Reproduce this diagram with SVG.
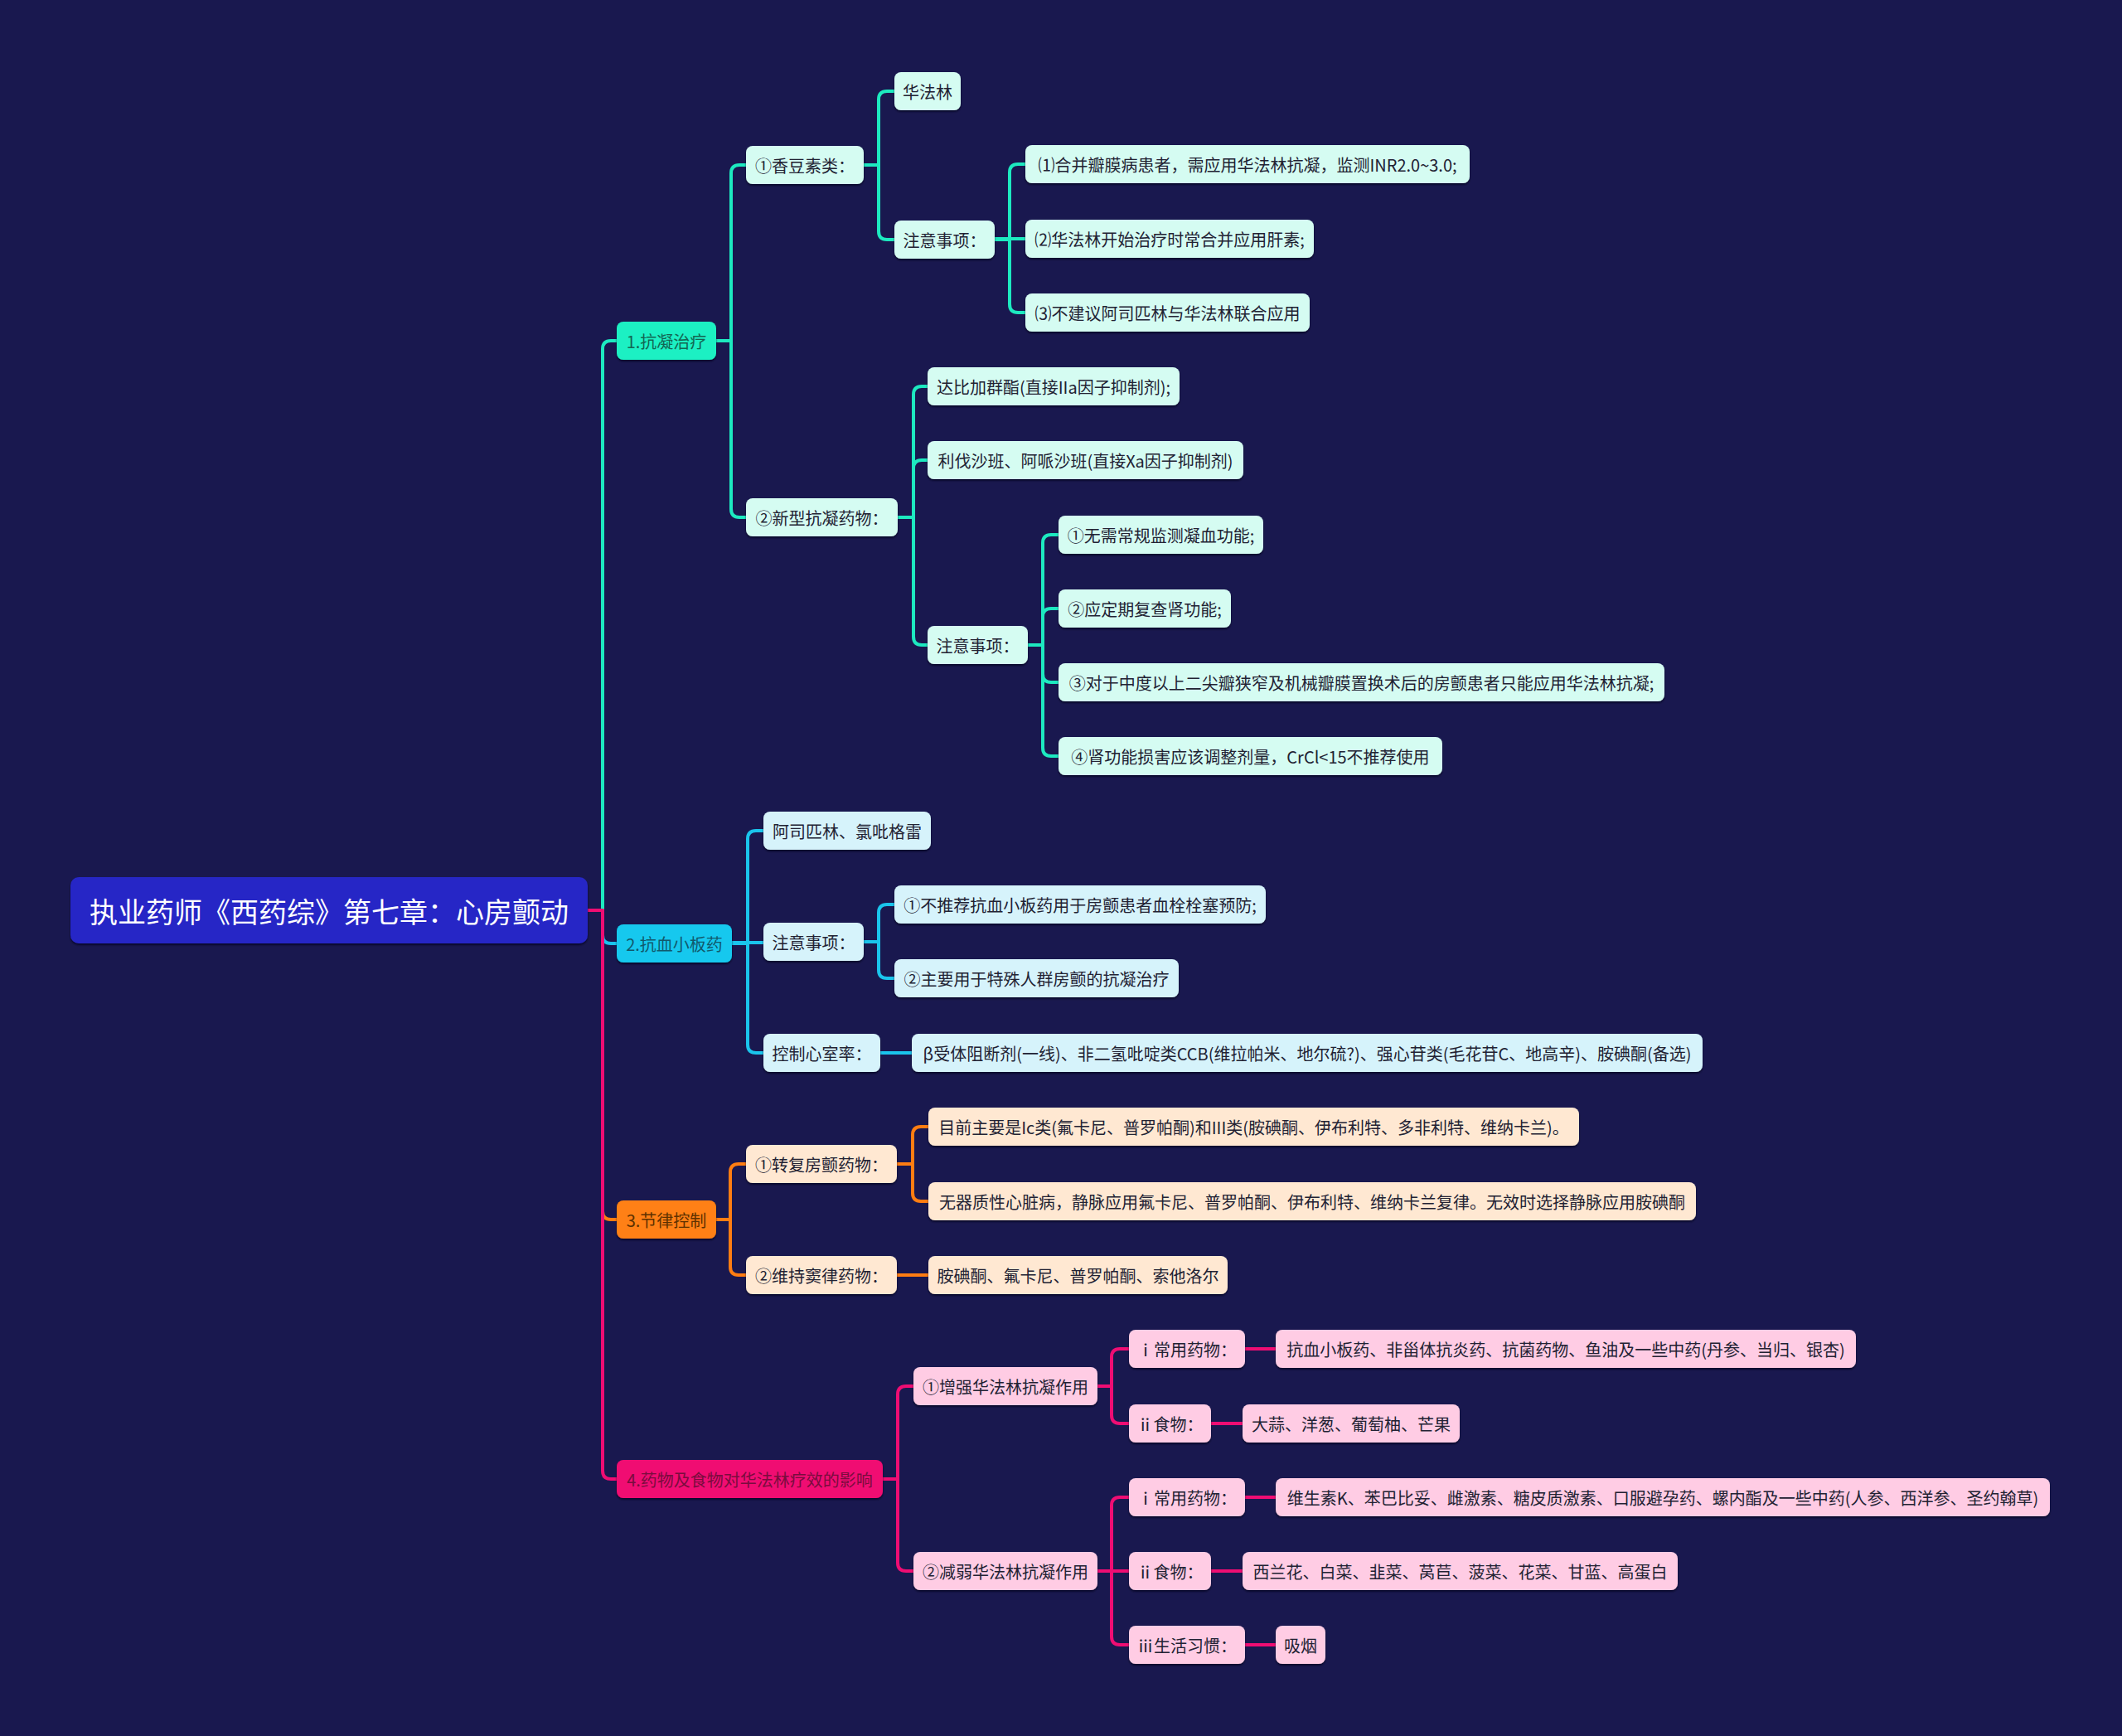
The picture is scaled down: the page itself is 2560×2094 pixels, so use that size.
<svg xmlns="http://www.w3.org/2000/svg" width="2560" height="2094" viewBox="0 0 2560 2094">
<defs>
<filter id="sh" x="-5%" y="-20%" width="110%" height="150%">
<feDropShadow dx="0" dy="2" stdDeviation="1" flood-color="#05041f" flood-opacity="0.7"/>
</filter>
</defs>
<style>
text{font-family:"Noto Sans CJK SC","Noto Sans",sans-serif;font-size:20px;text-anchor:middle;dominant-baseline:central;fill:#222233}
rect{filter:url(#sh)}
.root rect{fill:#2626c6}
.root text{fill:#ffffff;font-size:34px}
.c path{fill:none;stroke-width:4;stroke-linejoin:round}
.lt{stroke:#1de9c0}.lc{stroke:#1ac4ec}.lo{stroke:#ff7d12}.lp{stroke:#ef0d73}
.t1 rect{fill:#1ef0c3}.t1 text{fill:#136652}
.t2 rect{fill:#d5fcf2}
.c1 rect{fill:#12c8ee}.c1 text{fill:#11596c}
.c2 rect{fill:#d6f3fb}
.o1 rect{fill:#ff8012}.o1 text{fill:#5e3100}
.o2 rect{fill:#ffe8d2}
.p1 rect{fill:#f00a72}.p1 text{fill:#7a0c3e}
.p2 rect{fill:#ffcce4}
</style>
<rect x="0" y="0" width="2560" height="2094" fill="#19184f" style="filter:none"/>
<g class="c" id="connectors">
<path class="lt" d="M709 1098 H727 V421 Q727 411 737 411 H744"/>
<path class="lc" d="M709 1098 H727 V1128 Q727 1138 737 1138 H744"/>
<path class="lo" d="M709 1098 H727 V1461 Q727 1471 737 1471 H744"/>
<path class="lp" d="M709 1098 H727 V1774 Q727 1784 737 1784 H744"/>
<path class="lt" d="M864 411 H882 V209 Q882 199 892 199 H900"/>
<path class="lt" d="M864 411 H882 V614 Q882 624 892 624 H900"/>
<path class="lt" d="M1042 199 H1060 V120 Q1060 110 1070 110 H1079"/>
<path class="lt" d="M1042 199 H1060 V279 Q1060 289 1070 289 H1079"/>
<path class="lt" d="M1200 289 H1218 V208 Q1218 198 1228 198 H1237"/>
<path class="lt" d="M1200 288 H1237"/>
<path class="lt" d="M1200 289 H1218 V367 Q1218 377 1228 377 H1237"/>
<path class="lt" d="M1083 624 H1102 V476 Q1102 466 1112 466 H1119"/>
<path class="lt" d="M1083 624 H1102 V565 Q1102 555 1112 555 H1119"/>
<path class="lt" d="M1083 624 H1102 V768 Q1102 778 1112 778 H1119"/>
<path class="lt" d="M1240 778 H1258 V655 Q1258 645 1268 645 H1277"/>
<path class="lt" d="M1240 778 H1258 V744 Q1258 734 1268 734 H1277"/>
<path class="lt" d="M1240 778 H1258 V813 Q1258 823 1268 823 H1277"/>
<path class="lt" d="M1240 778 H1258 V902 Q1258 912 1268 912 H1277"/>
<path class="lc" d="M883 1138 H902 V1012 Q902 1002 912 1002 H921"/>
<path class="lc" d="M883 1137 H921"/>
<path class="lc" d="M883 1138 H902 V1260 Q902 1270 912 1270 H921"/>
<path class="lc" d="M1042 1136 H1060 V1101 Q1060 1091 1070 1091 H1079"/>
<path class="lc" d="M1042 1136 H1060 V1170 Q1060 1180 1070 1180 H1079"/>
<path class="lc" d="M1062 1270 H1100"/>
<path class="lo" d="M864 1471 H881 V1414 Q881 1404 891 1404 H900"/>
<path class="lo" d="M864 1471 H881 V1528 Q881 1538 891 1538 H900"/>
<path class="lo" d="M1082 1404 H1101 V1369 Q1101 1359 1111 1359 H1120"/>
<path class="lo" d="M1082 1404 H1101 V1439 Q1101 1449 1111 1449 H1120"/>
<path class="lo" d="M1082 1538 H1120"/>
<path class="lp" d="M1065 1784 H1083 V1682 Q1083 1672 1093 1672 H1102"/>
<path class="lp" d="M1065 1784 H1083 V1885 Q1083 1895 1093 1895 H1102"/>
<path class="lp" d="M1324 1672 H1341 V1637 Q1341 1627 1351 1627 H1362"/>
<path class="lp" d="M1324 1672 H1341 V1707 Q1341 1717 1351 1717 H1362"/>
<path class="lp" d="M1502 1627 H1539"/>
<path class="lp" d="M1461 1717 H1499"/>
<path class="lp" d="M1324 1895 H1341 V1816 Q1341 1806 1351 1806 H1362"/>
<path class="lp" d="M1324 1895 H1362"/>
<path class="lp" d="M1324 1895 H1341 V1974 Q1341 1984 1351 1984 H1362"/>
<path class="lp" d="M1502 1806 H1539"/>
<path class="lp" d="M1461 1895 H1499"/>
<path class="lp" d="M1502 1984 H1539"/>
</g>
<g id="root" class="root"><rect x="85" y="1058" width="624" height="80" rx="10"/><text x="397" y="1098">执业药师《西药综》第七章：心房颤动</text></g>

<g id="n1" class="t1"><rect x="744" y="388" width="120" height="46" rx="8"/><text x="804" y="411">1.抗凝治疗</text></g>
<g id="n1a" class="t2"><rect x="900" y="176" width="142" height="46" rx="8"/><text x="971" y="199">①香豆素类：</text></g>
<g id="n1a1" class="t2"><rect x="1079" y="87" width="80" height="46" rx="8"/><text x="1119" y="110">华法林</text></g>
<g id="n1a2" class="t2"><rect x="1079" y="266" width="121" height="46" rx="8"/><text x="1139.5" y="289">注意事项：</text></g>
<g id="n1a2a" class="t2"><rect x="1237" y="175" width="536" height="46" rx="8"/><text x="1505" y="198">⑴合并瓣膜病患者，需应用华法林抗凝，监测INR2.0~3.0;</text></g>
<g id="n1a2b" class="t2"><rect x="1237" y="265" width="348" height="46" rx="8"/><text x="1411" y="288">⑵华法林开始治疗时常合并应用肝素;</text></g>
<g id="n1a2c" class="t2"><rect x="1237" y="354" width="343" height="46" rx="8"/><text x="1408.5" y="377">⑶不建议阿司匹林与华法林联合应用</text></g>
<g id="n1b" class="t2"><rect x="900" y="601" width="183" height="46" rx="8"/><text x="991.5" y="624">②新型抗凝药物：</text></g>
<g id="n1b1" class="t2"><rect x="1119" y="443" width="304" height="46" rx="8"/><text x="1271" y="466">达比加群酯(直接IIa因子抑制剂);</text></g>
<g id="n1b2" class="t2"><rect x="1119" y="532" width="381" height="46" rx="8"/><text x="1309.5" y="555">利伐沙班、阿哌沙班(直接Xa因子抑制剂)</text></g>
<g id="n1b3" class="t2"><rect x="1119" y="755" width="121" height="46" rx="8"/><text x="1179.5" y="778">注意事项：</text></g>
<g id="n1b3a" class="t2"><rect x="1277" y="622" width="247" height="46" rx="8"/><text x="1400.5" y="645">①无需常规监测凝血功能;</text></g>
<g id="n1b3b" class="t2"><rect x="1277" y="711" width="208" height="46" rx="8"/><text x="1381" y="734">②应定期复查肾功能;</text></g>
<g id="n1b3c" class="t2"><rect x="1277" y="800" width="731" height="46" rx="8"/><text x="1642.5" y="823">③对于中度以上二尖瓣狭窄及机械瓣膜置换术后的房颤患者只能应用华法林抗凝;</text></g>
<g id="n1b3d" class="t2"><rect x="1277" y="889" width="463" height="46" rx="8"/><text x="1508.5" y="912">④肾功能损害应该调整剂量，CrCl&lt;15不推荐使用</text></g>

<g id="n2" class="c1"><rect x="744" y="1115" width="139" height="46" rx="8"/><text x="813.5" y="1138">2.抗血小板药</text></g>
<g id="n2a" class="c2"><rect x="921" y="979" width="202" height="46" rx="8"/><text x="1022" y="1002">阿司匹林、氯吡格雷</text></g>
<g id="n2b" class="c2"><rect x="921" y="1113" width="121" height="46" rx="8"/><text x="981.5" y="1136">注意事项：</text></g>
<g id="n2b1" class="c2"><rect x="1079" y="1068" width="448" height="46" rx="8"/><text x="1303" y="1091">①不推荐抗血小板药用于房颤患者血栓栓塞预防;</text></g>
<g id="n2b2" class="c2"><rect x="1079" y="1157" width="343" height="46" rx="8"/><text x="1250.5" y="1180">②主要用于特殊人群房颤的抗凝治疗</text></g>
<g id="n2c" class="c2"><rect x="921" y="1247" width="141" height="46" rx="8"/><text x="991.5" y="1270">控制心室率：</text></g>
<g id="n2c1" class="c2"><rect x="1100" y="1247" width="954" height="46" rx="8"/><text x="1577" y="1270">β受体阻断剂(一线)、非二氢吡啶类CCB(维拉帕米、地尔硫?)、强心苷类(毛花苷C、地高辛)、胺碘酮(备选)</text></g>

<g id="n3" class="o1"><rect x="744" y="1448" width="120" height="46" rx="8"/><text x="804" y="1471">3.节律控制</text></g>
<g id="n3a" class="o2"><rect x="900" y="1381" width="182" height="46" rx="8"/><text x="991" y="1404">①转复房颤药物：</text></g>
<g id="n3a1" class="o2"><rect x="1120" y="1336" width="785" height="46" rx="8"/><text x="1512.5" y="1359">目前主要是Ic类(氟卡尼、普罗帕酮)和III类(胺碘酮、伊布利特、多非利特、维纳卡兰)。</text></g>
<g id="n3a2" class="o2"><rect x="1120" y="1426" width="926" height="46" rx="8"/><text x="1583" y="1449">无器质性心脏病，静脉应用氟卡尼、普罗帕酮、伊布利特、维纳卡兰复律。无效时选择静脉应用胺碘酮</text></g>
<g id="n3b" class="o2"><rect x="900" y="1515" width="182" height="46" rx="8"/><text x="991" y="1538">②维持窦律药物：</text></g>
<g id="n3b1" class="o2"><rect x="1120" y="1515" width="361" height="46" rx="8"/><text x="1300.5" y="1538">胺碘酮、氟卡尼、普罗帕酮、索他洛尔</text></g>

<g id="n4" class="p1"><rect x="744" y="1761" width="321" height="46" rx="8"/><text x="904.5" y="1784">4.药物及食物对华法林疗效的影响</text></g>
<g id="n4a" class="p2"><rect x="1102" y="1649" width="222" height="46" rx="8"/><text x="1213" y="1672">①增强华法林抗凝作用</text></g>
<g id="n4a1" class="p2"><rect x="1362" y="1604" width="140" height="46" rx="8"/><text x="1432" y="1627">ⅰ常用药物：</text></g>
<g id="n4a1a" class="p2"><rect x="1539" y="1604" width="700" height="46" rx="8"/><text x="1889" y="1627">抗血小板药、非甾体抗炎药、抗菌药物、鱼油及一些中药(丹参、当归、银杏)</text></g>
<g id="n4a2" class="p2"><rect x="1362" y="1694" width="99" height="46" rx="8"/><text x="1411.5" y="1717">ⅱ食物：</text></g>
<g id="n4a2a" class="p2"><rect x="1499" y="1694" width="262" height="46" rx="8"/><text x="1630" y="1717">大蒜、洋葱、葡萄柚、芒果</text></g>
<g id="n4b" class="p2"><rect x="1102" y="1872" width="222" height="46" rx="8"/><text x="1213" y="1895">②减弱华法林抗凝作用</text></g>
<g id="n4b1" class="p2"><rect x="1362" y="1783" width="140" height="46" rx="8"/><text x="1432" y="1806">ⅰ常用药物：</text></g>
<g id="n4b1a" class="p2"><rect x="1539" y="1783" width="934" height="46" rx="8"/><text x="2006" y="1806">维生素K、苯巴比妥、雌激素、糖皮质激素、口服避孕药、螺内酯及一些中药(人参、西洋参、圣约翰草)</text></g>
<g id="n4b2" class="p2"><rect x="1362" y="1872" width="99" height="46" rx="8"/><text x="1411.5" y="1895">ⅱ食物：</text></g>
<g id="n4b2a" class="p2"><rect x="1499" y="1872" width="525" height="46" rx="8"/><text x="1761.5" y="1895">西兰花、白菜、韭菜、莴苣、菠菜、花菜、甘蓝、高蛋白</text></g>
<g id="n4b3" class="p2"><rect x="1362" y="1961" width="140" height="46" rx="8"/><text x="1432" y="1984">ⅲ生活习惯：</text></g>
<g id="n4b3a" class="p2"><rect x="1539" y="1961" width="60" height="46" rx="8"/><text x="1569" y="1984">吸烟</text></g>
</svg>
